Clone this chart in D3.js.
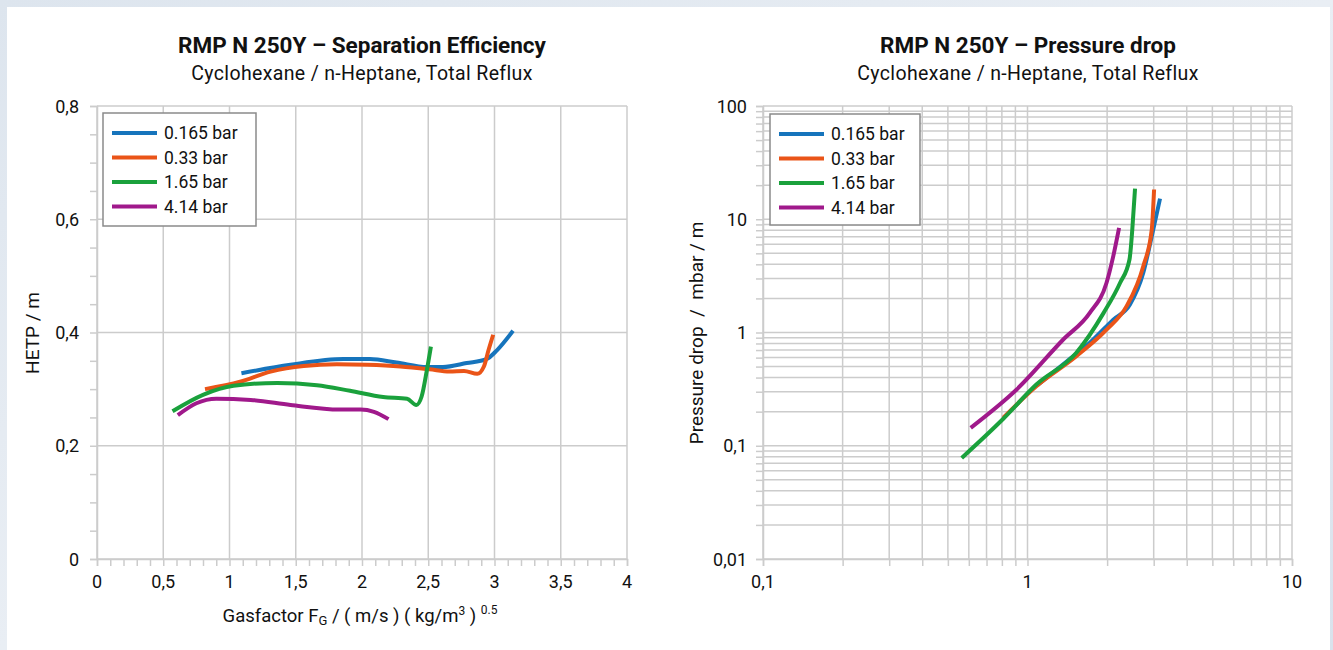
<!DOCTYPE html>
<html>
<head>
<meta charset="utf-8">
<script src="https://d3js.org/d3.v7.min.js"></script>
<style>
  html, body { margin: 0; padding: 0; overflow: hidden; }
  body { width: 1333px; height: 650px; }
  svg text { font-family: Roboto, "Noto Sans", sans-serif; fill: #111; }
</style>
</head>
<body>
<div id="chart"></div>
<script>
// Series names and colours
const seriesNames = ['0.165 bar', '0.33 bar', '1.65 bar', '4.14 bar'];
const seriesColors = ['#1674bc', '#ea5418', '#1aa13c', '#a0198b'];

// Left chart: HETP vs gas factor
const hetp_0165 = [[1.09, 0.328], [1.46, 0.343], [1.86, 0.353], [2.06, 0.353], [2.26, 0.347], [2.49, 0.339], [2.61, 0.339], [2.79, 0.346], [2.94, 0.353], [3.02, 0.369], [3.14, 0.403]];
const hetp_033 = [[0.815, 0.300], [1.08, 0.313], [1.31, 0.331], [1.56, 0.341], [1.81, 0.344], [2.04, 0.343], [2.29, 0.340], [2.51, 0.335], [2.66, 0.331], [2.77, 0.332], [2.87, 0.327], [2.92, 0.340], [2.955, 0.369], [2.99, 0.396]];
const hetp_165 = [[0.57, 0.261], [0.80, 0.290], [1.03, 0.306], [1.36, 0.311], [1.66, 0.307], [1.91, 0.297], [2.16, 0.286], [2.34, 0.283], [2.41, 0.272], [2.45, 0.287], [2.49, 0.334], [2.52, 0.375]];
const hetp_414 = [[0.61, 0.254], [0.75, 0.275], [0.90, 0.283], [1.16, 0.281], [1.46, 0.272], [1.83, 0.264], [1.99, 0.264], [2.09, 0.260], [2.20, 0.247]];

// Right chart: pressure drop vs gas factor
const dp_0165 = [[1.09, 0.343], [1.41, 0.558], [1.72, 0.811], [2.11, 1.30], [2.44, 1.77], [2.74, 3.37], [2.95, 7.08], [3.17, 15.2]];
const dp_033 = [[0.81, 0.177], [1.08, 0.336], [1.53, 0.618], [1.99, 1.06], [2.37, 1.71], [2.74, 3.85], [2.95, 8.12], [3.01, 18.3]];
const dp_165 = [[0.564, 0.078], [0.81, 0.173], [1.08, 0.347], [1.53, 0.662], [1.94, 1.49], [2.24, 2.75], [2.43, 4.41], [2.49, 8.12], [2.55, 18.6]];
const dp_414 = [[0.61, 0.144], [0.91, 0.314], [1.365, 0.867], [1.72, 1.49], [1.99, 2.75], [2.11, 4.72], [2.22, 8.40]];

const hetpSeries = [hetp_0165, hetp_033, hetp_165, hetp_414];
const dpSeries = [dp_0165, dp_033, dp_165, dp_414];

const leftXTicks = [0, 0.5, 1, 1.5, 2, 2.5, 3, 3.5, 4];
const leftYTicks = [0, 0.2, 0.4, 0.6, 0.8];
const rightXTicks = [0.1, 1, 10];
const rightYTicks = [0.01, 0.1, 1, 10, 100];

const W = 1333, H = 650;
const svg = d3.select('#chart').append('svg')
    .attr('width', W).attr('height', H);

// Background
const defs = svg.append('defs');
const grad = defs.append('linearGradient').attr('id', 'bg')
    .attr('x1', '0%').attr('y1', '0%').attr('x2', '100%').attr('y2', '100%');
grad.append('stop').attr('offset', '0%').attr('stop-color', '#dde5ee');
grad.append('stop').attr('offset', '50%').attr('stop-color', '#e9eef4');
grad.append('stop').attr('offset', '100%').attr('stop-color', '#d9e2ec');
svg.append('rect').attr('width', W).attr('height', H).attr('fill', 'url(#bg)');
svg.append('rect').attr('x', 7).attr('y', 7).attr('width', 1323).attr('height', H - 7).attr('fill', '#fff');

const comma = v => String(v).replace('.', ',');
const gridColor = '#cccccc';
const tickFont = 18;

function legend(g, x, y, w, h) {
    g.append('rect').attr('x', x).attr('y', y).attr('width', w).attr('height', h)
        .attr('fill', '#fff').attr('stroke', '#8a8a8a').attr('stroke-width', 1.5);
    seriesNames.forEach((name, i) => {
        const cy = y + 20 + i * 24.5;
        g.append('line').attr('x1', x + 9).attr('x2', x + 54).attr('y1', cy).attr('y2', cy)
            .attr('stroke', seriesColors[i]).attr('stroke-width', 4);
        g.append('text').attr('x', x + 61).attr('y', cy + 6)
            .attr('font-size', 17.5).text(name);
    });
}

function titles(cx, title) {
    svg.append('text').attr('x', cx).attr('y', 53).attr('text-anchor', 'middle')
        .attr('font-size', 22.5).attr('font-weight', 'bold').text(title);
    svg.append('text').attr('x', cx).attr('y', 80).attr('text-anchor', 'middle')
        .attr('font-size', 19.5).attr('letter-spacing', 0.35)
        .text('Cyclohexane / n-Heptane, Total Reflux');
}

// ---------- Left chart ----------
{
    const x = d3.scaleLinear().domain([0, 4]).range([97, 627]);
    const y = d3.scaleLinear().domain([0, 0.8]).range([559, 106]);
    const g = svg.append('g');

    // grid
    g.selectAll('.vg').data(leftXTicks).enter().append('line')
        .attr('x1', d => x(d)).attr('x2', d => x(d)).attr('y1', y(0)).attr('y2', y(0.8))
        .attr('stroke', gridColor).attr('stroke-width', 1.5);
    g.selectAll('.hg').data(leftYTicks).enter().append('line')
        .attr('x1', x(0)).attr('x2', x(4)).attr('y1', d => y(d)).attr('y2', d => y(d))
        .attr('stroke', gridColor).attr('stroke-width', 1.5);

    // axes with minor ticks
    const xAxis = g.append('g').attr('transform', `translate(0,${y(0)})`)
        .call(d3.axisBottom(x).tickValues(d3.range(0, 4.001, 0.1)).tickSize(7).tickFormat(''));
    const yAxis = g.append('g').attr('transform', `translate(${x(0)},0)`)
        .call(d3.axisLeft(y).tickValues(d3.range(0, 0.801, 0.05)).tickSize(7).tickFormat(''));
    [xAxis, yAxis].forEach(a => {
        a.select('.domain').attr('stroke', gridColor).attr('stroke-width', 1.5);
        a.selectAll('.tick line').attr('stroke', gridColor).attr('stroke-width', 1.5);
    });

    g.selectAll('.xl').data(leftXTicks).enter().append('text')
        .attr('x', d => x(d)).attr('y', 588).attr('text-anchor', 'middle')
        .attr('font-size', tickFont).text(d => comma(d));
    g.selectAll('.yl').data(leftYTicks).enter().append('text')
        .attr('x', 79).attr('y', d => y(d) + 6.5).attr('text-anchor', 'end')
        .attr('font-size', tickFont).text(d => comma(d));

    const line = d3.line().x(d => x(d[0])).y(d => y(d[1])).curve(d3.curveMonotoneX);
    g.selectAll('.series').data(hetpSeries).enter().append('path')
        .attr('d', line).attr('fill', 'none')
        .attr('stroke', (d, i) => seriesColors[i]).attr('stroke-width', 4);

    legend(g, 103, 113, 153, 113);
    titles(362, 'RMP N 250Y – Separation Efficiency');

    svg.append('text').attr('transform', `translate(39,${333}) rotate(-90)`)
        .attr('text-anchor', 'middle').attr('font-size', 19).text('HETP / m');

    const xl = svg.append('text').attr('x', 360).attr('y', 622).attr('text-anchor', 'middle')
        .attr('font-size', 18.5);
    xl.append('tspan').text('Gasfactor F');
    xl.append('tspan').attr('font-size', 13).attr('dy', 3).text('G');
    xl.append('tspan').attr('dy', -3).text(' / ( m/s ) ( kg/m');
    xl.append('tspan').attr('font-size', 12).attr('dy', -7).text('3');
    xl.append('tspan').attr('dy', 7).text(' ) ');
    xl.append('tspan').attr('font-size', 12).attr('dy', -8).text('0.5');
}

// ---------- Right chart ----------
{
    const x = d3.scaleLog().domain([0.1, 10]).range([763, 1292]);
    const y = d3.scaleLog().domain([0.01, 100]).range([559, 106]);
    const g = svg.append('g');

    const xMinor = [];
    [0.1, 1].forEach(b => d3.range(1, 10).forEach(k => xMinor.push(b * k)));
    xMinor.push(10);
    const yMinor = [];
    [0.01, 0.1, 1, 10].forEach(b => d3.range(1, 10).forEach(k => yMinor.push(b * k)));
    yMinor.push(100);

    g.selectAll('.vg').data(xMinor).enter().append('line')
        .attr('x1', d => x(d)).attr('x2', d => x(d)).attr('y1', y(0.01)).attr('y2', y(100))
        .attr('stroke', gridColor).attr('stroke-width', 1.5);
    g.selectAll('.hg').data(yMinor).enter().append('line')
        .attr('x1', x(0.1)).attr('x2', x(10)).attr('y1', d => y(d)).attr('y2', d => y(d))
        .attr('stroke', gridColor).attr('stroke-width', 1.5);

    const xAxis = g.append('g').attr('transform', `translate(0,${y(0.01)})`)
        .call(d3.axisBottom(x).tickValues(xMinor).tickSize(7).tickFormat(''));
    const yAxis = g.append('g').attr('transform', `translate(${x(0.1)},0)`)
        .call(d3.axisLeft(y).tickValues(yMinor).tickSize(7).tickFormat(''));
    [xAxis, yAxis].forEach(a => {
        a.select('.domain').attr('stroke', gridColor).attr('stroke-width', 1.5);
        a.selectAll('.tick line').attr('stroke', gridColor).attr('stroke-width', 1.5);
    });

    g.selectAll('.xl').data(rightXTicks).enter().append('text')
        .attr('x', d => x(d)).attr('y', 588).attr('text-anchor', 'middle')
        .attr('font-size', tickFont).text(d => comma(d));
    g.selectAll('.yl').data(rightYTicks).enter().append('text')
        .attr('x', 747).attr('y', d => y(d) + 6.5).attr('text-anchor', 'end')
        .attr('font-size', tickFont).text(d => comma(d));

    const line = d3.line().x(d => x(d[0])).y(d => y(d[1])).curve(d3.curveMonotoneX);
    g.selectAll('.series').data(dpSeries).enter().append('path')
        .attr('d', line).attr('fill', 'none')
        .attr('stroke', (d, i) => seriesColors[i]).attr('stroke-width', 4);

    legend(g, 770, 114, 150, 111);
    titles(1028, 'RMP N 250Y – Pressure drop');

    svg.append('text').attr('transform', `translate(703,${333}) rotate(-90)`)
        .attr('text-anchor', 'middle').attr('font-size', 19)
        .attr('xml:space', 'preserve').style('white-space', 'pre')
        .text('Pressure drop  /  mbar / m');
}
</script>
</body>
</html>
